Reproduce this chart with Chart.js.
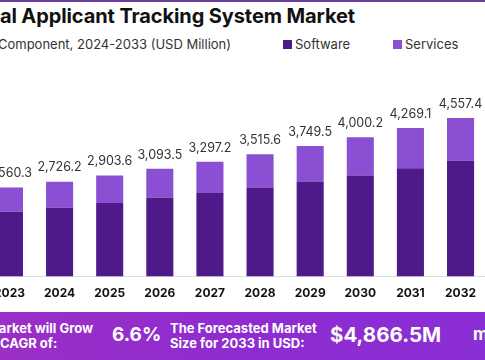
<!DOCTYPE html>
<html>
<head>
<meta charset="utf-8">
<script src="https://cdn.jsdelivr.net/npm/chart.js@4.4.1/dist/chart.umd.min.js"></script>
<style>
  html, body { margin: 0; padding: 0; width: 485px; height: 360px; overflow: hidden; background: #fff; position: relative; font-family: Inter, "Open Sans", sans-serif; }
  #topline { position: absolute; left: 0; top: 0; width: 485px; height: 2px; background: #6b3d9e; }
  #title { position: absolute; right: 130px; top: 4px; white-space: nowrap; font-family: Inter, sans-serif; font-weight: 700; font-size: 20px; color: #111; letter-spacing: -0.1px; }
  #subtitle { position: absolute; right: 254px; top: 35.5px; white-space: nowrap; font-family: Inter, sans-serif; font-size: 13px; color: #333; }
  .leg { position: absolute; top: 35.5px; font-family: Inter, sans-serif; font-size: 13px; color: #333; white-space: nowrap; }
  .leg i { display: inline-block; width: 9px; height: 9px; margin-right: 3px; vertical-align: 0px; }
  #wrap { position: absolute; left: -16px; top: 2px; width: 502px; height: 319px; }
  #banner { position: absolute; left: 0; top: 312px; width: 485px; height: 48px; background: linear-gradient(90deg, #9b2fc6 0%, #8f2bd0 50%, #8a2ed6 100%); color: #fff; font-family: Inter, sans-serif; font-weight: 700; overflow: hidden; }
  #banner .t { position: absolute; font-size: 13px; line-height: 15px; white-space: nowrap; }
  #banner .big { position: absolute; white-space: nowrap; }
</style>
</head>
<body>
<div id="topline"></div>
<div id="title">Global Applicant Tracking System Market</div>
<div id="subtitle">By Component, 2024-2033 (USD Million)</div>
<div class="leg" style="left:283px"><i style="background:#4e1a8a"></i>Software</div>
<div class="leg" style="left:393px"><i style="background:#8a4fd2"></i>Services</div>
<div id="wrap"><canvas id="c"></canvas></div>
<div id="banner">
  <div class="t" style="right:392px; top:9px; text-align:left">The Market will Grow<br>At the CAGR of:</div>
  <div class="big" style="left:112px; top:11px; font-size:19px">6.6%</div>
  <div class="t" style="left:170px; top:9px">The Forecasted Market<br>Size for 2033 in USD:</div>
  <div class="big" style="left:330px; top:10px; font-size:20.5px">$4,866.5M</div>
  <div class="big" style="left:473px; top:12px; font-size:17px">market.us</div>
</div>
<script>
const years = ["2023","2024","2025","2026","2027","2028","2029","2030","2031","2032"];
const totals = [2560.3, 2726.2, 2903.6, 3093.5, 3297.2, 3515.6, 3749.5, 4000.2, 4269.1, 4557.4];
const software = [1863, 1978, 2112, 2264, 2399, 2559, 2731, 2903, 3115, 3325];
const services = [697.3, 748.2, 791.6, 829.5, 898.2, 956.6, 1018.5, 1097.2, 1154.1, 1232.4];

const labelPlugin = {
  id: 'totLabels',
  afterDatasetsDraw(chart) {
    const ctx = chart.ctx;
    const meta = chart.getDatasetMeta(1);
    ctx.save();
    ctx.font = '12.5px Inter, sans-serif';
    ctx.fillStyle = '#333';
    ctx.textAlign = 'center';
    ctx.textBaseline = 'middle';
    meta.data.forEach((bar, i) => {
      ctx.fillText(totals[i].toLocaleString('en-US', {minimumFractionDigits:1, maximumFractionDigits:1}), bar.x, bar.y - 14);
    });
    ctx.restore();
  }
};

new Chart(document.getElementById('c'), {
  type: 'bar',
  data: {
    labels: years,
    datasets: [
      { label: 'Software', data: software, backgroundColor: '#4e1a8a', barPercentage: 0.54, categoryPercentage: 1 },
      { label: 'Services', data: services, backgroundColor: '#8a4fd2', barPercentage: 0.54, categoryPercentage: 1 }
    ]
  },
  options: {
    responsive: true,
    maintainAspectRatio: false,
    animation: false,
    layout: { padding: { top: 58, bottom: 10, left: 0, right: 0 } },
    plugins: { legend: { display: false }, tooltip: { enabled: false } },
    scales: {
      x: {
        stacked: true,
        grid: { display: false, drawTicks: false },
        border: { display: true, color: '#dcdcdc', width: 1 },
        ticks: { color: '#111', padding: 10, font: { family: 'Inter, sans-serif', weight: 'bold', size: 12 } }
      },
      y: { stacked: true, display: false, min: 0, max: 6220 }
    }
  },
  plugins: [labelPlugin]
});
</script>
</body>
</html>
